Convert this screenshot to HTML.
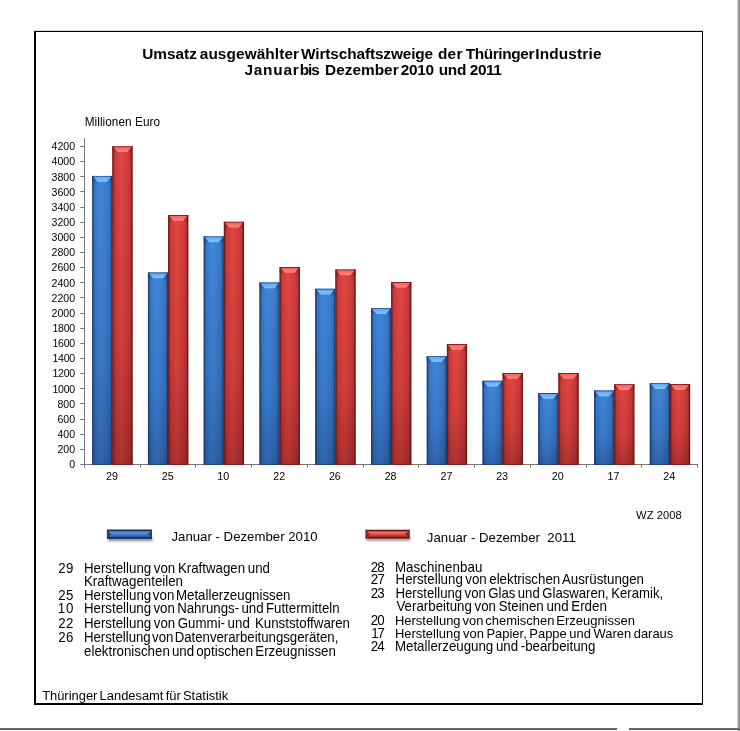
<!DOCTYPE html>
<html lang="de"><head><meta charset="utf-8"><title>Umsatz ausgewählter Wirtschaftszweige der Thüringer Industrie</title>
<style>
html,body{margin:0;padding:0;background:#fff;}
body{width:740px;height:731px;position:relative;overflow:hidden;font-family:"Liberation Sans",sans-serif;color:#000;}
.frame{position:absolute;left:34px;top:31px;width:666px;height:671px;border-style:solid;border-color:#000;border-width:1px 1px 2px 2px;box-shadow:0 -0.4px 0 0 rgba(0,0,0,0.35);}
.vline{position:absolute;left:737px;top:0;width:3px;height:731px;background:linear-gradient(to right,#d8d8d8 0,#d8d8d8 1px,#969696 1px,#969696 3px);}
.hline{position:absolute;top:728px;height:2px;background:linear-gradient(to bottom,#707070 0,#707070 1px,#555 1px,#555 2px);}
h1{margin:0;font-size:inherit;font-weight:normal;}
.t{position:absolute;white-space:nowrap;line-height:20px;font-size:13.3px;}
svg{position:absolute;left:0;top:0;}
</style></head><body>
<div class="frame"></div>
<div class="vline"></div>
<div class="hline" style="left:0;width:617px"></div>
<div class="hline" style="left:629px;width:111px"></div>
<svg width="740" height="731" viewBox="0 0 740 731">
<defs>
<linearGradient id="bv" x1="0" y1="0" x2="0" y2="1"><stop offset="0" stop-color="#4085d8"/><stop offset="0.6" stop-color="#3877c6"/><stop offset="1" stop-color="#2c5ea4"/></linearGradient>
<linearGradient id="rv" x1="0" y1="0" x2="0" y2="1"><stop offset="0" stop-color="#de4242"/><stop offset="0.6" stop-color="#cb3b3a"/><stop offset="1" stop-color="#a52d2d"/></linearGradient>
<linearGradient id="bh" x1="0" y1="0" x2="1" y2="0"><stop offset="0" stop-color="#122f5e" stop-opacity="0.95"/><stop offset="0.055" stop-color="#143868" stop-opacity="0.7"/><stop offset="0.12" stop-color="#1c4686" stop-opacity="0.22"/><stop offset="0.45" stop-color="#4a90e0" stop-opacity="0.14"/><stop offset="0.75" stop-color="#1c4686" stop-opacity="0.14"/><stop offset="0.9" stop-color="#163c74" stop-opacity="0.3"/><stop offset="0.95" stop-color="#12305e" stop-opacity="0.7"/><stop offset="1" stop-color="#0e2850" stop-opacity="0.95"/></linearGradient>
<linearGradient id="rh" x1="0" y1="0" x2="1" y2="0"><stop offset="0" stop-color="#561010" stop-opacity="0.95"/><stop offset="0.055" stop-color="#6a1616" stop-opacity="0.7"/><stop offset="0.12" stop-color="#8a2020" stop-opacity="0.22"/><stop offset="0.45" stop-color="#f05a48" stop-opacity="0.14"/><stop offset="0.75" stop-color="#8a2020" stop-opacity="0.14"/><stop offset="0.9" stop-color="#701818" stop-opacity="0.3"/><stop offset="0.95" stop-color="#5a1010" stop-opacity="0.7"/><stop offset="1" stop-color="#480c0c" stop-opacity="0.95"/></linearGradient>
<linearGradient id="bt" x1="0" y1="0" x2="0" y2="1"><stop offset="0" stop-color="#60a8f2"/><stop offset="1" stop-color="#84c6ff"/></linearGradient>
<linearGradient id="rt" x1="0" y1="0" x2="0" y2="1"><stop offset="0" stop-color="#f26262"/><stop offset="1" stop-color="#ff877e"/></linearGradient>
<linearGradient id="bd" x1="0" y1="0" x2="0" y2="1"><stop offset="0" stop-color="#173c74" stop-opacity="0.8"/><stop offset="0.55" stop-color="#173c74" stop-opacity="0.5"/><stop offset="1" stop-color="#173c74" stop-opacity="0.05"/></linearGradient>
<linearGradient id="rd" x1="0" y1="0" x2="0" y2="1"><stop offset="0" stop-color="#741a1a" stop-opacity="0.8"/><stop offset="0.55" stop-color="#741a1a" stop-opacity="0.5"/><stop offset="1" stop-color="#741a1a" stop-opacity="0.05"/></linearGradient>
<linearGradient id="lb" x1="0" y1="0" x2="0" y2="1"><stop offset="0" stop-color="#3f74ba"/><stop offset="0.3" stop-color="#5e97d8"/><stop offset="0.6" stop-color="#3f78c0"/><stop offset="1" stop-color="#28569a"/></linearGradient>
<linearGradient id="lr" x1="0" y1="0" x2="0" y2="1"><stop offset="0" stop-color="#cc4646"/><stop offset="0.3" stop-color="#f27466"/><stop offset="0.6" stop-color="#d44444"/><stop offset="1" stop-color="#a82c2c"/></linearGradient>
<filter id="sh" x="-10%" y="-50%" width="120%" height="250%"><feGaussianBlur stdDeviation="0.9"/></filter>
</defs>
<line x1="84.5" y1="138.2" x2="84.5" y2="465.0" stroke="#787878"/>
<line x1="84.0" y1="464.5" x2="698.1" y2="464.5" stroke="#787878"/>
<line x1="80.3" y1="464.50" x2="84.5" y2="464.50" stroke="#787878"/>
<line x1="80.3" y1="449.50" x2="84.5" y2="449.50" stroke="#787878"/>
<line x1="80.3" y1="434.50" x2="84.5" y2="434.50" stroke="#787878"/>
<line x1="80.3" y1="419.50" x2="84.5" y2="419.50" stroke="#787878"/>
<line x1="80.3" y1="403.50" x2="84.5" y2="403.50" stroke="#787878"/>
<line x1="80.3" y1="388.50" x2="84.5" y2="388.50" stroke="#787878"/>
<line x1="80.3" y1="373.50" x2="84.5" y2="373.50" stroke="#787878"/>
<line x1="80.3" y1="358.50" x2="84.5" y2="358.50" stroke="#787878"/>
<line x1="80.3" y1="343.50" x2="84.5" y2="343.50" stroke="#787878"/>
<line x1="80.3" y1="328.50" x2="84.5" y2="328.50" stroke="#787878"/>
<line x1="80.3" y1="313.50" x2="84.5" y2="313.50" stroke="#787878"/>
<line x1="80.3" y1="297.50" x2="84.5" y2="297.50" stroke="#787878"/>
<line x1="80.3" y1="282.50" x2="84.5" y2="282.50" stroke="#787878"/>
<line x1="80.3" y1="267.50" x2="84.5" y2="267.50" stroke="#787878"/>
<line x1="80.3" y1="252.50" x2="84.5" y2="252.50" stroke="#787878"/>
<line x1="80.3" y1="237.50" x2="84.5" y2="237.50" stroke="#787878"/>
<line x1="80.3" y1="222.50" x2="84.5" y2="222.50" stroke="#787878"/>
<line x1="80.3" y1="207.50" x2="84.5" y2="207.50" stroke="#787878"/>
<line x1="80.3" y1="191.50" x2="84.5" y2="191.50" stroke="#787878"/>
<line x1="80.3" y1="176.50" x2="84.5" y2="176.50" stroke="#787878"/>
<line x1="80.3" y1="161.50" x2="84.5" y2="161.50" stroke="#787878"/>
<line x1="80.3" y1="146.50" x2="84.5" y2="146.50" stroke="#787878"/>
<line x1="84.50" y1="464.5" x2="84.50" y2="467.7" stroke="#787878"/>
<line x1="140.50" y1="464.5" x2="140.50" y2="467.7" stroke="#787878"/>
<line x1="195.50" y1="464.5" x2="195.50" y2="467.7" stroke="#787878"/>
<line x1="251.50" y1="464.5" x2="251.50" y2="467.7" stroke="#787878"/>
<line x1="307.50" y1="464.5" x2="307.50" y2="467.7" stroke="#787878"/>
<line x1="363.50" y1="464.5" x2="363.50" y2="467.7" stroke="#787878"/>
<line x1="418.50" y1="464.5" x2="418.50" y2="467.7" stroke="#787878"/>
<line x1="474.50" y1="464.5" x2="474.50" y2="467.7" stroke="#787878"/>
<line x1="530.50" y1="464.5" x2="530.50" y2="467.7" stroke="#787878"/>
<line x1="586.50" y1="464.5" x2="586.50" y2="467.7" stroke="#787878"/>
<line x1="641.50" y1="464.5" x2="641.50" y2="467.7" stroke="#787878"/>
<line x1="697.50" y1="464.5" x2="697.50" y2="467.7" stroke="#787878"/>
<rect x="92.20" y="175.90" width="20.15" height="289.00" fill="url(#bv)"/>
<rect x="92.20" y="175.90" width="20.15" height="289.00" fill="url(#bh)"/>
<polygon points="92.20,175.90 112.35,175.90 112.35,183.30 107.55,183.30 111.35,176.80 93.20,176.80 97.00,183.30 92.20,183.30" fill="url(#bd)"/>
<polygon points="93.40,176.80 111.15,176.80 106.95,181.70 97.60,181.70" fill="url(#bt)"/>
<rect x="92.20" y="463.80" width="20.15" height="1.2" fill="#173c74" fill-opacity="0.75"/>
<rect x="112.35" y="146.30" width="20.15" height="318.60" fill="url(#rv)"/>
<rect x="112.35" y="146.30" width="20.15" height="318.60" fill="url(#rh)"/>
<polygon points="112.35,146.30 132.50,146.30 132.50,153.70 127.70,153.70 131.50,147.20 113.35,147.20 117.15,153.70 112.35,153.70" fill="url(#rd)"/>
<polygon points="113.55,147.20 131.30,147.20 127.10,152.10 117.75,152.10" fill="url(#rt)"/>
<rect x="112.35" y="463.80" width="20.15" height="1.2" fill="#741a1a" fill-opacity="0.75"/>
<rect x="147.96" y="272.50" width="20.15" height="192.40" fill="url(#bv)"/>
<rect x="147.96" y="272.50" width="20.15" height="192.40" fill="url(#bh)"/>
<polygon points="147.96,272.50 168.11,272.50 168.11,279.90 163.31,279.90 167.11,273.40 148.96,273.40 152.76,279.90 147.96,279.90" fill="url(#bd)"/>
<polygon points="149.16,273.40 166.91,273.40 162.71,278.30 153.36,278.30" fill="url(#bt)"/>
<rect x="147.96" y="463.80" width="20.15" height="1.2" fill="#173c74" fill-opacity="0.75"/>
<rect x="168.11" y="215.00" width="20.15" height="249.90" fill="url(#rv)"/>
<rect x="168.11" y="215.00" width="20.15" height="249.90" fill="url(#rh)"/>
<polygon points="168.11,215.00 188.26,215.00 188.26,222.40 183.46,222.40 187.26,215.90 169.11,215.90 172.91,222.40 168.11,222.40" fill="url(#rd)"/>
<polygon points="169.31,215.90 187.06,215.90 182.86,220.80 173.51,220.80" fill="url(#rt)"/>
<rect x="168.11" y="463.80" width="20.15" height="1.2" fill="#741a1a" fill-opacity="0.75"/>
<rect x="203.72" y="236.40" width="20.15" height="228.50" fill="url(#bv)"/>
<rect x="203.72" y="236.40" width="20.15" height="228.50" fill="url(#bh)"/>
<polygon points="203.72,236.40 223.87,236.40 223.87,243.80 219.07,243.80 222.87,237.30 204.72,237.30 208.52,243.80 203.72,243.80" fill="url(#bd)"/>
<polygon points="204.92,237.30 222.67,237.30 218.47,242.20 209.12,242.20" fill="url(#bt)"/>
<rect x="203.72" y="463.80" width="20.15" height="1.2" fill="#173c74" fill-opacity="0.75"/>
<rect x="223.87" y="221.80" width="20.15" height="243.10" fill="url(#rv)"/>
<rect x="223.87" y="221.80" width="20.15" height="243.10" fill="url(#rh)"/>
<polygon points="223.87,221.80 244.02,221.80 244.02,229.20 239.22,229.20 243.02,222.70 224.87,222.70 228.67,229.20 223.87,229.20" fill="url(#rd)"/>
<polygon points="225.07,222.70 242.82,222.70 238.62,227.60 229.27,227.60" fill="url(#rt)"/>
<rect x="223.87" y="463.80" width="20.15" height="1.2" fill="#741a1a" fill-opacity="0.75"/>
<rect x="259.48" y="282.50" width="20.15" height="182.40" fill="url(#bv)"/>
<rect x="259.48" y="282.50" width="20.15" height="182.40" fill="url(#bh)"/>
<polygon points="259.48,282.50 279.63,282.50 279.63,289.90 274.83,289.90 278.63,283.40 260.48,283.40 264.28,289.90 259.48,289.90" fill="url(#bd)"/>
<polygon points="260.68,283.40 278.43,283.40 274.23,288.30 264.88,288.30" fill="url(#bt)"/>
<rect x="259.48" y="463.80" width="20.15" height="1.2" fill="#173c74" fill-opacity="0.75"/>
<rect x="279.63" y="267.00" width="20.15" height="197.90" fill="url(#rv)"/>
<rect x="279.63" y="267.00" width="20.15" height="197.90" fill="url(#rh)"/>
<polygon points="279.63,267.00 299.78,267.00 299.78,274.40 294.98,274.40 298.78,267.90 280.63,267.90 284.43,274.40 279.63,274.40" fill="url(#rd)"/>
<polygon points="280.83,267.90 298.58,267.90 294.38,272.80 285.03,272.80" fill="url(#rt)"/>
<rect x="279.63" y="463.80" width="20.15" height="1.2" fill="#741a1a" fill-opacity="0.75"/>
<rect x="315.24" y="288.80" width="20.15" height="176.10" fill="url(#bv)"/>
<rect x="315.24" y="288.80" width="20.15" height="176.10" fill="url(#bh)"/>
<polygon points="315.24,288.80 335.39,288.80 335.39,296.20 330.59,296.20 334.39,289.70 316.24,289.70 320.04,296.20 315.24,296.20" fill="url(#bd)"/>
<polygon points="316.44,289.70 334.19,289.70 329.99,294.60 320.64,294.60" fill="url(#bt)"/>
<rect x="315.24" y="463.80" width="20.15" height="1.2" fill="#173c74" fill-opacity="0.75"/>
<rect x="335.39" y="269.50" width="20.15" height="195.40" fill="url(#rv)"/>
<rect x="335.39" y="269.50" width="20.15" height="195.40" fill="url(#rh)"/>
<polygon points="335.39,269.50 355.54,269.50 355.54,276.90 350.74,276.90 354.54,270.40 336.39,270.40 340.19,276.90 335.39,276.90" fill="url(#rd)"/>
<polygon points="336.59,270.40 354.34,270.40 350.14,275.30 340.79,275.30" fill="url(#rt)"/>
<rect x="335.39" y="463.80" width="20.15" height="1.2" fill="#741a1a" fill-opacity="0.75"/>
<rect x="371.00" y="308.20" width="20.15" height="156.70" fill="url(#bv)"/>
<rect x="371.00" y="308.20" width="20.15" height="156.70" fill="url(#bh)"/>
<polygon points="371.00,308.20 391.15,308.20 391.15,315.60 386.35,315.60 390.15,309.10 372.00,309.10 375.80,315.60 371.00,315.60" fill="url(#bd)"/>
<polygon points="372.20,309.10 389.95,309.10 385.75,314.00 376.40,314.00" fill="url(#bt)"/>
<rect x="371.00" y="463.80" width="20.15" height="1.2" fill="#173c74" fill-opacity="0.75"/>
<rect x="391.15" y="282.00" width="20.15" height="182.90" fill="url(#rv)"/>
<rect x="391.15" y="282.00" width="20.15" height="182.90" fill="url(#rh)"/>
<polygon points="391.15,282.00 411.30,282.00 411.30,289.40 406.50,289.40 410.30,282.90 392.15,282.90 395.95,289.40 391.15,289.40" fill="url(#rd)"/>
<polygon points="392.35,282.90 410.10,282.90 405.90,287.80 396.55,287.80" fill="url(#rt)"/>
<rect x="391.15" y="463.80" width="20.15" height="1.2" fill="#741a1a" fill-opacity="0.75"/>
<rect x="426.76" y="356.20" width="20.15" height="108.70" fill="url(#bv)"/>
<rect x="426.76" y="356.20" width="20.15" height="108.70" fill="url(#bh)"/>
<polygon points="426.76,356.20 446.91,356.20 446.91,363.60 442.11,363.60 445.91,357.10 427.76,357.10 431.56,363.60 426.76,363.60" fill="url(#bd)"/>
<polygon points="427.96,357.10 445.71,357.10 441.51,362.00 432.16,362.00" fill="url(#bt)"/>
<rect x="426.76" y="463.80" width="20.15" height="1.2" fill="#173c74" fill-opacity="0.75"/>
<rect x="446.91" y="344.00" width="20.15" height="120.90" fill="url(#rv)"/>
<rect x="446.91" y="344.00" width="20.15" height="120.90" fill="url(#rh)"/>
<polygon points="446.91,344.00 467.06,344.00 467.06,351.40 462.26,351.40 466.06,344.90 447.91,344.90 451.71,351.40 446.91,351.40" fill="url(#rd)"/>
<polygon points="448.11,344.90 465.86,344.90 461.66,349.80 452.31,349.80" fill="url(#rt)"/>
<rect x="446.91" y="463.80" width="20.15" height="1.2" fill="#741a1a" fill-opacity="0.75"/>
<rect x="482.52" y="380.80" width="20.15" height="84.10" fill="url(#bv)"/>
<rect x="482.52" y="380.80" width="20.15" height="84.10" fill="url(#bh)"/>
<polygon points="482.52,380.80 502.67,380.80 502.67,388.20 497.87,388.20 501.67,381.70 483.52,381.70 487.32,388.20 482.52,388.20" fill="url(#bd)"/>
<polygon points="483.72,381.70 501.47,381.70 497.27,386.60 487.92,386.60" fill="url(#bt)"/>
<rect x="482.52" y="463.80" width="20.15" height="1.2" fill="#173c74" fill-opacity="0.75"/>
<rect x="502.67" y="373.00" width="20.15" height="91.90" fill="url(#rv)"/>
<rect x="502.67" y="373.00" width="20.15" height="91.90" fill="url(#rh)"/>
<polygon points="502.67,373.00 522.82,373.00 522.82,380.40 518.02,380.40 521.82,373.90 503.67,373.90 507.47,380.40 502.67,380.40" fill="url(#rd)"/>
<polygon points="503.87,373.90 521.62,373.90 517.42,378.80 508.07,378.80" fill="url(#rt)"/>
<rect x="502.67" y="463.80" width="20.15" height="1.2" fill="#741a1a" fill-opacity="0.75"/>
<rect x="538.28" y="393.00" width="20.15" height="71.90" fill="url(#bv)"/>
<rect x="538.28" y="393.00" width="20.15" height="71.90" fill="url(#bh)"/>
<polygon points="538.28,393.00 558.43,393.00 558.43,400.40 553.63,400.40 557.43,393.90 539.28,393.90 543.08,400.40 538.28,400.40" fill="url(#bd)"/>
<polygon points="539.48,393.90 557.23,393.90 553.03,398.80 543.68,398.80" fill="url(#bt)"/>
<rect x="538.28" y="463.80" width="20.15" height="1.2" fill="#173c74" fill-opacity="0.75"/>
<rect x="558.43" y="373.00" width="20.15" height="91.90" fill="url(#rv)"/>
<rect x="558.43" y="373.00" width="20.15" height="91.90" fill="url(#rh)"/>
<polygon points="558.43,373.00 578.58,373.00 578.58,380.40 573.78,380.40 577.58,373.90 559.43,373.90 563.23,380.40 558.43,380.40" fill="url(#rd)"/>
<polygon points="559.63,373.90 577.38,373.90 573.18,378.80 563.83,378.80" fill="url(#rt)"/>
<rect x="558.43" y="463.80" width="20.15" height="1.2" fill="#741a1a" fill-opacity="0.75"/>
<rect x="594.04" y="390.50" width="20.15" height="74.40" fill="url(#bv)"/>
<rect x="594.04" y="390.50" width="20.15" height="74.40" fill="url(#bh)"/>
<polygon points="594.04,390.50 614.19,390.50 614.19,397.90 609.39,397.90 613.19,391.40 595.04,391.40 598.84,397.90 594.04,397.90" fill="url(#bd)"/>
<polygon points="595.24,391.40 612.99,391.40 608.79,396.30 599.44,396.30" fill="url(#bt)"/>
<rect x="594.04" y="463.80" width="20.15" height="1.2" fill="#173c74" fill-opacity="0.75"/>
<rect x="614.19" y="384.20" width="20.15" height="80.70" fill="url(#rv)"/>
<rect x="614.19" y="384.20" width="20.15" height="80.70" fill="url(#rh)"/>
<polygon points="614.19,384.20 634.34,384.20 634.34,391.60 629.54,391.60 633.34,385.10 615.19,385.10 618.99,391.60 614.19,391.60" fill="url(#rd)"/>
<polygon points="615.39,385.10 633.14,385.10 628.94,390.00 619.59,390.00" fill="url(#rt)"/>
<rect x="614.19" y="463.80" width="20.15" height="1.2" fill="#741a1a" fill-opacity="0.75"/>
<rect x="649.80" y="383.20" width="20.15" height="81.70" fill="url(#bv)"/>
<rect x="649.80" y="383.20" width="20.15" height="81.70" fill="url(#bh)"/>
<polygon points="649.80,383.20 669.95,383.20 669.95,390.60 665.15,390.60 668.95,384.10 650.80,384.10 654.60,390.60 649.80,390.60" fill="url(#bd)"/>
<polygon points="651.00,384.10 668.75,384.10 664.55,389.00 655.20,389.00" fill="url(#bt)"/>
<rect x="649.80" y="463.80" width="20.15" height="1.2" fill="#173c74" fill-opacity="0.75"/>
<rect x="669.95" y="384.00" width="20.15" height="80.90" fill="url(#rv)"/>
<rect x="669.95" y="384.00" width="20.15" height="80.90" fill="url(#rh)"/>
<polygon points="669.95,384.00 690.10,384.00 690.10,391.40 685.30,391.40 689.10,384.90 670.95,384.90 674.75,391.40 669.95,391.40" fill="url(#rd)"/>
<polygon points="671.15,384.90 688.90,384.90 684.70,389.80 675.35,389.80" fill="url(#rt)"/>
<rect x="669.95" y="463.80" width="20.15" height="1.2" fill="#741a1a" fill-opacity="0.75"/>
<rect x="108.0" y="537.4" width="44.6" height="3.8" fill="#6e6e6e" fill-opacity="0.75" filter="url(#sh)"/>
<rect x="106.9" y="529.5" width="45.1" height="9.4" fill="#16305c"/>
<rect x="107.9" y="531.1" width="43.2" height="6.0" fill="url(#lb)"/>
<polygon points="107.9,531.1 111.6,534 107.9,537.1" fill="#1b3c74" fill-opacity="0.8"/>
<polygon points="151.1,531.1 147.4,534 151.1,537.1" fill="#1b3c74" fill-opacity="0.8"/>
<rect x="366.2" y="537.2" width="44.2" height="3.6" fill="#6e6e6e" fill-opacity="0.7" filter="url(#sh)"/>
<rect x="365.4" y="529.7" width="44.4" height="8.9" fill="#6c1616"/>
<rect x="366.4" y="531.1" width="42.4" height="5.8" fill="url(#lr)"/>
<polygon points="366.4,531.1 370.1,534 366.4,536.9" fill="#7c1c1c" fill-opacity="0.8"/>
<polygon points="408.8,531.1 405.1,534 408.8,536.9" fill="#7c1c1c" fill-opacity="0.8"/>
</svg>
<h1><span class="t" style="left:142.28px;top:43.70px;font-size:15.4px;letter-spacing:-0.017px;font-weight:bold;">Umsatz</span> <span class="t" style="left:199.74px;top:43.70px;font-size:15.4px;letter-spacing:0.083px;font-weight:bold;">ausgewählter</span> <span class="t" style="left:301.10px;top:43.70px;font-size:15.4px;letter-spacing:-0.130px;font-weight:bold;">Wirtschaftszweige</span> <span class="t" style="left:437.88px;top:43.70px;font-size:15.4px;letter-spacing:0.300px;font-weight:bold;">der</span> <span class="t" style="left:465.65px;top:43.70px;font-size:15.4px;letter-spacing:-0.382px;font-weight:bold;">Thüringer</span> <span class="t" style="left:535.22px;top:43.70px;font-size:15.4px;letter-spacing:0.157px;font-weight:bold;">Industrie</span> <span class="t" style="left:244.39px;top:59.70px;font-size:15.4px;letter-spacing:0.801px;font-weight:bold;">Januar</span> <span class="t" style="left:299.82px;top:59.70px;font-size:15.4px;letter-spacing:-1.141px;font-weight:bold;">bis</span> <span class="t" style="left:325.02px;top:59.70px;font-size:15.4px;letter-spacing:0.011px;font-weight:bold;">Dezember</span> <span class="t" style="left:400.74px;top:59.70px;font-size:15.4px;letter-spacing:-0.303px;font-weight:bold;">2010</span> <span class="t" style="left:438.68px;top:59.70px;font-size:15.4px;letter-spacing:-0.217px;font-weight:bold;">und</span> <span class="t" style="left:469.84px;top:59.70px;font-size:15.4px;letter-spacing:-0.431px;font-weight:bold;">2011</span></h1>
<div class="t" style="left:84.66px;top:112.20px;font-size:11.8px;letter-spacing:0.056px;transform:scaleY(1.06);transform-origin:0 14.00px;">Millionen Euro</div>
<div class="t" style="left:636.09px;top:505.20px;font-size:11.1px;letter-spacing:0.083px;">WZ 2008</div>
<div class="t" style="left:171.44px;top:526.70px;font-size:13.2px;letter-spacing:0.014px;">Januar - Dezember 2010</div>
<div class="t" style="left:426.84px;top:527.70px;font-size:13.2px;letter-spacing:0.016px;">Januar - Dezember &nbsp;2011</div>
<div class="t" style="left:58.13px;top:558.70px;letter-spacing:0.567px;transform:scaleY(1.045);transform-origin:0 14.50px;">29</div>
<div class="t" style="left:83.94px;top:558.70px;word-spacing:-1.066px;transform:scaleY(1.045);transform-origin:0 14.50px;">Herstellung von Kraftwagen und</div>
<div class="t" style="left:83.94px;top:571.70px;transform:scaleY(1.045);transform-origin:0 14.50px;">Kraftwagenteilen</div>
<div class="t" style="left:58.13px;top:585.70px;letter-spacing:0.434px;transform:scaleY(1.045);transform-origin:0 14.50px;">25</div>
<div class="t" style="left:83.94px;top:585.70px;word-spacing:-2.055px;transform:scaleY(1.045);transform-origin:0 14.50px;">Herstellung von Metallerzeugnissen</div>
<div class="t" style="left:57.74px;top:598.70px;letter-spacing:0.833px;transform:scaleY(1.045);transform-origin:0 14.50px;">10</div>
<div class="t" style="left:83.94px;top:598.70px;font-size:13.29px;word-spacing:-1.388px;transform:scaleY(1.045);transform-origin:0 14.50px;">Herstellung von Nahrungs- und Futtermitteln</div>
<div class="t" style="left:58.13px;top:613.70px;letter-spacing:0.567px;transform:scaleY(1.045);transform-origin:0 14.50px;">22</div>
<div class="t" style="left:83.94px;top:613.70px;word-spacing:-1.131px;transform:scaleY(1.045);transform-origin:0 14.50px;">Herstellung von Gummi- und &nbsp;Kunststoffwaren</div>
<div class="t" style="left:58.13px;top:627.70px;letter-spacing:0.434px;transform:scaleY(1.045);transform-origin:0 14.50px;">26</div>
<div class="t" style="left:83.94px;top:627.70px;font-size:13.26px;word-spacing:-2.300px;letter-spacing:-0.025px;transform:scaleY(1.045);transform-origin:0 14.50px;">Herstellung von Datenverarbeitungsgeräten,</div>
<div class="t" style="left:84.07px;top:641.70px;word-spacing:-1.576px;transform:scaleY(1.045);transform-origin:0 14.50px;">elektronischen und optischen Erzeugnissen</div>
<div class="t" style="left:370.73px;top:557.70px;letter-spacing:-0.766px;transform:scaleY(1.045);transform-origin:0 14.50px;">28</div>
<div class="t" style="left:394.94px;top:557.70px;letter-spacing:0.092px;transform:scaleY(1.045);transform-origin:0 14.50px;">Maschinenbau</div>
<div class="t" style="left:370.73px;top:569.70px;letter-spacing:-0.633px;transform:scaleY(1.045);transform-origin:0 14.50px;">27</div>
<div class="t" style="left:395.54px;top:569.70px;word-spacing:-1.191px;transform:scaleY(1.045);transform-origin:0 14.50px;">Herstellung von elektrischen Ausrüstungen</div>
<div class="t" style="left:370.73px;top:583.70px;letter-spacing:-0.766px;transform:scaleY(1.045);transform-origin:0 14.50px;">23</div>
<div class="t" style="left:395.55px;top:583.70px;font-size:13.17px;word-spacing:-1.173px;transform:scaleY(1.045);transform-origin:0 14.50px;">Herstellung von Glas und Glaswaren, Keramik,</div>
<div class="t" style="left:396.47px;top:596.70px;word-spacing:-1.016px;transform:scaleY(1.045);transform-origin:0 14.50px;">Verarbeitung von Steinen und Erden</div>
<div class="t" style="left:370.73px;top:610.70px;letter-spacing:-0.766px;transform:scaleY(1.045);transform-origin:0 14.50px;">20</div>
<div class="t" style="left:394.96px;top:610.70px;font-size:12.98px;word-spacing:-1.725px;transform:scaleY(1.045);transform-origin:0 14.50px;">Herstellung von chemischen Erzeugnissen</div>
<div class="t" style="left:371.34px;top:623.70px;letter-spacing:-1.234px;transform:scaleY(1.045);transform-origin:0 14.50px;">17</div>
<div class="t" style="left:394.96px;top:623.70px;font-size:12.95px;word-spacing:-0.998px;transform:scaleY(1.045);transform-origin:0 14.50px;">Herstellung von Papier, Pappe und Waren daraus</div>
<div class="t" style="left:370.73px;top:636.70px;letter-spacing:-0.899px;transform:scaleY(1.045);transform-origin:0 14.50px;">24</div>
<div class="t" style="left:394.94px;top:636.70px;word-spacing:-1.048px;transform:scaleY(1.045);transform-origin:0 14.50px;">Metallerzeugung und -bearbeitung</div>
<div class="t" style="left:42.14px;top:685.70px;font-size:12.92px;word-spacing:-1.351px;">Thüringer Landesamt für Statistik</div>
<div class="t" style="left:69.19px;top:454.20px;font-size:10.6px;transform:scaleY(1.07);transform-origin:0 14.00px;">0</div>
<div class="t" style="left:57.42px;top:439.20px;font-size:10.6px;transform:scaleY(1.07);transform-origin:0 14.00px;">200</div>
<div class="t" style="left:57.42px;top:424.20px;font-size:10.6px;transform:scaleY(1.07);transform-origin:0 14.00px;">400</div>
<div class="t" style="left:57.42px;top:409.20px;font-size:10.6px;transform:scaleY(1.07);transform-origin:0 14.00px;">600</div>
<div class="t" style="left:57.42px;top:394.20px;font-size:10.6px;transform:scaleY(1.07);transform-origin:0 14.00px;">800</div>
<div class="t" style="left:52.49px;top:379.20px;font-size:10.6px;letter-spacing:-0.300px;transform:scaleY(1.07);transform-origin:0 14.00px;">1000</div>
<div class="t" style="left:52.49px;top:363.20px;font-size:10.6px;letter-spacing:-0.300px;transform:scaleY(1.07);transform-origin:0 14.00px;">1200</div>
<div class="t" style="left:52.49px;top:348.20px;font-size:10.6px;letter-spacing:-0.300px;transform:scaleY(1.07);transform-origin:0 14.00px;">1400</div>
<div class="t" style="left:52.49px;top:333.20px;font-size:10.6px;letter-spacing:-0.300px;transform:scaleY(1.07);transform-origin:0 14.00px;">1600</div>
<div class="t" style="left:52.49px;top:318.20px;font-size:10.6px;letter-spacing:-0.300px;transform:scaleY(1.07);transform-origin:0 14.00px;">1800</div>
<div class="t" style="left:51.59px;top:303.20px;font-size:10.6px;transform:scaleY(1.07);transform-origin:0 14.00px;">2000</div>
<div class="t" style="left:51.59px;top:288.20px;font-size:10.6px;transform:scaleY(1.07);transform-origin:0 14.00px;">2200</div>
<div class="t" style="left:51.59px;top:273.20px;font-size:10.6px;transform:scaleY(1.07);transform-origin:0 14.00px;">2400</div>
<div class="t" style="left:51.59px;top:257.20px;font-size:10.6px;transform:scaleY(1.07);transform-origin:0 14.00px;">2600</div>
<div class="t" style="left:51.59px;top:242.20px;font-size:10.6px;transform:scaleY(1.07);transform-origin:0 14.00px;">2800</div>
<div class="t" style="left:51.59px;top:227.20px;font-size:10.6px;transform:scaleY(1.07);transform-origin:0 14.00px;">3000</div>
<div class="t" style="left:51.59px;top:212.20px;font-size:10.6px;transform:scaleY(1.07);transform-origin:0 14.00px;">3200</div>
<div class="t" style="left:51.59px;top:197.20px;font-size:10.6px;transform:scaleY(1.07);transform-origin:0 14.00px;">3400</div>
<div class="t" style="left:51.59px;top:182.20px;font-size:10.6px;transform:scaleY(1.07);transform-origin:0 14.00px;">3600</div>
<div class="t" style="left:51.59px;top:167.20px;font-size:10.6px;transform:scaleY(1.07);transform-origin:0 14.00px;">3800</div>
<div class="t" style="left:51.59px;top:151.20px;font-size:10.6px;transform:scaleY(1.07);transform-origin:0 14.00px;">4000</div>
<div class="t" style="left:51.59px;top:136.20px;font-size:10.6px;transform:scaleY(1.07);transform-origin:0 14.00px;">4200</div>
<div class="t" style="left:106.03px;top:466.20px;font-size:10.7px;transform:scaleY(1.06);transform-origin:0 14.00px;">29</div>
<div class="t" style="left:161.71px;top:466.20px;font-size:10.7px;transform:scaleY(1.06);transform-origin:0 14.00px;">25</div>
<div class="t" style="left:217.29px;top:466.20px;font-size:10.7px;transform:scaleY(1.06);transform-origin:0 14.00px;">10</div>
<div class="t" style="left:273.24px;top:466.20px;font-size:10.7px;transform:scaleY(1.06);transform-origin:0 14.00px;">22</div>
<div class="t" style="left:328.92px;top:466.20px;font-size:10.7px;transform:scaleY(1.06);transform-origin:0 14.00px;">26</div>
<div class="t" style="left:384.66px;top:466.20px;font-size:10.7px;transform:scaleY(1.06);transform-origin:0 14.00px;">28</div>
<div class="t" style="left:440.45px;top:466.20px;font-size:10.7px;transform:scaleY(1.06);transform-origin:0 14.00px;">27</div>
<div class="t" style="left:496.13px;top:466.20px;font-size:10.7px;transform:scaleY(1.06);transform-origin:0 14.00px;">23</div>
<div class="t" style="left:551.87px;top:466.20px;font-size:10.7px;transform:scaleY(1.06);transform-origin:0 14.00px;">20</div>
<div class="t" style="left:607.50px;top:466.20px;font-size:10.7px;transform:scaleY(1.06);transform-origin:0 14.00px;">17</div>
<div class="t" style="left:663.29px;top:466.20px;font-size:10.7px;transform:scaleY(1.06);transform-origin:0 14.00px;">24</div>
</body></html>
